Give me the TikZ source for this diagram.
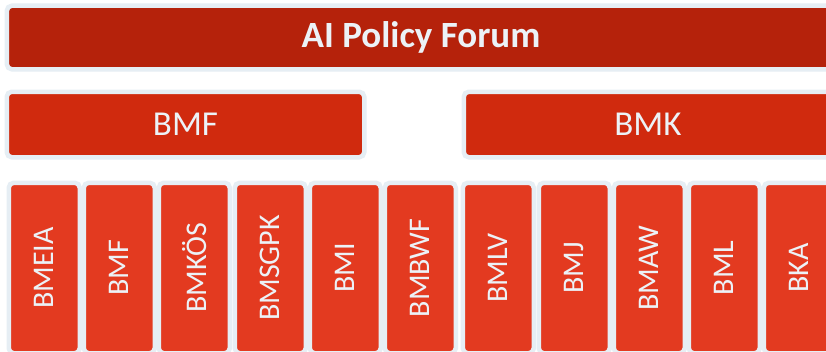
\documentclass[tikz,border=0pt]{standalone}
\usepackage{fontspec}
\setmainfont{Carlito}
\definecolor{rimcol}{RGB}{230,238,244}
\definecolor{topred}{RGB}{181,34,11}
\definecolor{midred}{RGB}{208,42,14}
\definecolor{lowred}{RGB}{227,58,32}
\definecolor{txtcol}{RGB}{236,242,247}
\tikzset{
  basebox/.style={draw=rimcol, line width=4.5pt, rounded corners=5pt, inner sep=0pt, text=txtcol, align=center},
  topbox/.style={basebox, fill=topred, font=\fontsize{37}{44}\selectfont\bfseries},
  midbox/.style={basebox, fill=midred, font=\fontsize{35}{42}\selectfont, minimum height=65.5pt},
  lowbox/.style={basebox, fill=lowred, font=\fontsize{30}{36}\selectfont, rotate=90, minimum width=170.5pt, minimum height=71pt}
}
\begin{document}
\begin{tikzpicture}[x=1pt,y=-1pt]
\useasboundingbox (0,0) rectangle (826,351);
\clip (0,0) rectangle (826,351);
\fill[white] (0,0) rectangle (826,351);
% top
\node[topbox, minimum width=828.3pt, minimum height=63.6pt] (forum) at (421,37.5) {AI Policy Forum};
% second row
\node[midbox, minimum width=357.5pt] (bmfgroup) at (185.5,124.5) {BMF};
\node[midbox, minimum width=368.5pt] (bmkgroup) at (648,124.5) {BMK};
% third row
\node[lowbox] (b1) at (44.25,268) {BMEIA};
\node[lowbox] (b2) at (119.25,268) {BMF};
\node[lowbox] (b3) at (194.25,268) {BMKÖS};
\node[lowbox] (b4) at (270.25,268) {BMSGPK};
\node[lowbox] (b5) at (345.25,268) {BMI};
\node[lowbox] (b6) at (420.25,268) {BMBWF};
\node[lowbox] (b7) at (498.25,268) {BMLV};
\node[lowbox] (b8) at (574.25,268) {BMJ};
\node[lowbox] (b9) at (649.25,268) {BMAW};
\node[lowbox] (b10) at (724.25,268) {BML};
\node[lowbox] (b11) at (799.25,268) {BKA};
\end{tikzpicture}
\end{document}
